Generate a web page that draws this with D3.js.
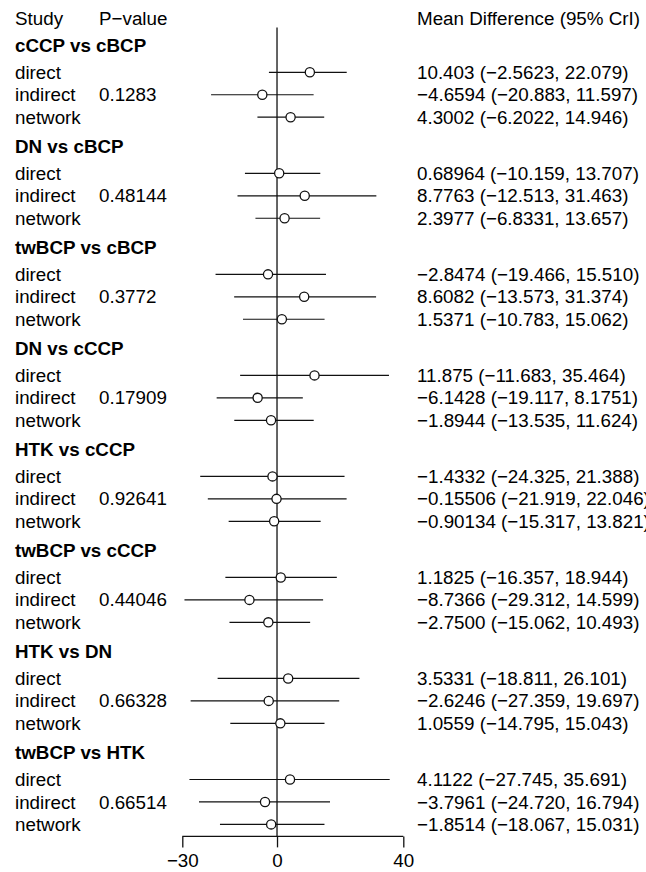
<!DOCTYPE html>
<html>
<head>
<meta charset="utf-8">
<script src="https://cdn.jsdelivr.net/npm/d3@7"></script>
<style>
  body { margin: 0; background: #fff; }
  text { font-family: "Liberation Sans", Arial, sans-serif; fill: #000; }
</style>
</head>
<body>
<script>
var svgWidth = 646;
var svgHeight = 872;

// comparisons, one per block
var comparisons = ["cCCP vs cBCP", "DN vs cBCP", "twBCP vs cBCP", "DN vs cCCP",
  "HTK vs cCCP", "twBCP vs cCCP", "HTK vs DN", "twBCP vs HTK"];
var pValues = ["0.1283", "0.48144", "0.3772", "0.17909", "0.92641", "0.44046", "0.66328", "0.66514"];
var sources = ["direct", "indirect", "network"];

// estimates as printed, [direct, indirect, network] per comparison
var means = [
  ["10.403", "-4.6594", "4.3002"],
  ["0.68964", "8.7763", "2.3977"],
  ["-2.8474", "8.6082", "1.5371"],
  ["11.875", "-6.1428", "-1.8944"],
  ["-1.4332", "-0.15506", "-0.90134"],
  ["1.1825", "-8.7366", "-2.7500"],
  ["3.5331", "-2.6246", "1.0559"],
  ["4.1122", "-3.7961", "-1.8514"]
];
var lowers = [
  ["-2.5623", "-20.883", "-6.2022"],
  ["-10.159", "-12.513", "-6.8331"],
  ["-19.466", "-13.573", "-10.783"],
  ["-11.683", "-19.117", "-13.535"],
  ["-24.325", "-21.919", "-15.317"],
  ["-16.357", "-29.312", "-15.062"],
  ["-18.811", "-27.359", "-14.795"],
  ["-27.745", "-24.720", "-18.067"]
];
var uppers = [
  ["22.079", "11.597", "14.946"],
  ["13.707", "31.463", "13.657"],
  ["15.510", "31.374", "15.062"],
  ["35.464", "8.1751", "11.624"],
  ["21.388", "22.046", "13.821"],
  ["18.944", "14.599", "10.493"],
  ["26.101", "19.697", "15.043"],
  ["35.691", "16.794", "15.031"]
];
var xTicks = [-30, 0, 40];

var fontSize = 18.8;
var rowStep = 22.45;
var firstRow = 72.3;
var blockStep = rowStep * 4.5;

var svg = d3.select("body")
  .append("svg")
  .attr("width", svgWidth)
  .attr("height", svgHeight);

var xScale = d3.scaleLinear()
  .domain([-30, 40])
  .range([182.3, 403.3]);

var axisY = firstRow + (comparisons.length - 1) * blockStep + 2 * rowStep + 12;

// flatten rows
var rows = [];
comparisons.forEach(function (c, i) {
  sources.forEach(function (s, j) {
    rows.push({
      block: i,
      source: s,
      y: firstRow + i * blockStep + j * rowStep,
      mean: +means[i][j],
      lo: +lowers[i][j],
      hi: +uppers[i][j],
      label: (means[i][j] + " (" + lowers[i][j] + ", " + uppers[i][j] + ")").replace(/-/g, "\u2212"),
      p: j == 1 ? pValues[i] : ""
    });
  });
});

function fmt(v) { return String(v).replace(/-/g, "\u2212"); }

// column headers
svg.append("text").attr("x", 15).attr("y", 18).attr("dy", "0.35em")
  .style("font-size", fontSize + "px").text("Study");
svg.append("text").attr("x", 99).attr("y", 18).attr("dy", "0.35em")
  .style("font-size", fontSize + "px").text("P\u2212value");
svg.append("text").attr("x", 417).attr("y", 18).attr("dy", "0.35em")
  .style("font-size", fontSize + "px").text("Mean Difference (95% CrI)");

// block titles
svg.selectAll(".title")
  .data(comparisons)
  .enter()
  .append("text")
  .attr("class", "title")
  .attr("x", 15)
  .attr("y", function (d, i) { return firstRow + i * blockStep - 27.3; })
  .attr("dy", "0.35em")
  .style("font-size", fontSize + "px")
  .style("font-weight", "bold")
  .text(function (d) { return d; });

// zero line
svg.append("line")
  .attr("x1", xScale(0)).attr("x2", xScale(0))
  .attr("y1", firstRow - 2 * rowStep).attr("y2", axisY)
  .attr("stroke", "#111")
  .attr("stroke-width", 1.3);

var node = svg.selectAll(".row")
  .data(rows)
  .enter()
  .append("g")
  .attr("class", "row");

node.append("text")
  .attr("x", 15)
  .attr("y", function (d) { return d.y; })
  .attr("dy", "0.35em")
  .style("font-size", fontSize + "px")
  .text(function (d) { return d.source; });

node.append("text")
  .attr("x", 99)
  .attr("y", function (d) { return d.y; })
  .attr("dy", "0.35em")
  .style("font-size", fontSize + "px")
  .text(function (d) { return d.p; });

node.append("text")
  .attr("x", 417)
  .attr("y", function (d) { return d.y; })
  .attr("dy", "0.35em")
  .style("font-size", fontSize + "px")
  .text(function (d) { return d.label; });

node.append("line")
  .attr("x1", function (d) { return xScale(d.lo); })
  .attr("x2", function (d) { return xScale(d.hi); })
  .attr("y1", function (d) { return d.y; })
  .attr("y2", function (d) { return d.y; })
  .attr("stroke", "#111")
  .attr("stroke-width", 1.2);

node.append("circle")
  .attr("cx", function (d) { return xScale(d.mean); })
  .attr("cy", function (d) { return d.y; })
  .attr("r", 4.6)
  .attr("fill", "white")
  .attr("stroke", "#111")
  .attr("stroke-width", 1.3);

// x axis
var bottomAxis = d3.axisBottom(xScale)
  .tickValues(xTicks)
  .tickSize(11)
  .tickPadding(6)
  .tickFormat(fmt);

var axisG = svg.append("g")
  .attr("transform", "translate(0," + axisY + ")")
  .call(bottomAxis);

axisG.select(".domain")
  .attr("d", "M" + xScale(-30) + ",0H" + xScale(40))
  .attr("stroke", "#111")
  .attr("stroke-width", 1.3);
axisG.selectAll(".tick line").attr("stroke", "#111").attr("stroke-width", 1.3);
axisG.selectAll(".tick text")
  .style("font-size", fontSize + "px")
  .style("font-family", "'Liberation Sans', Arial, sans-serif")
  .attr("fill", "#000");
</script>
</body>
</html>
